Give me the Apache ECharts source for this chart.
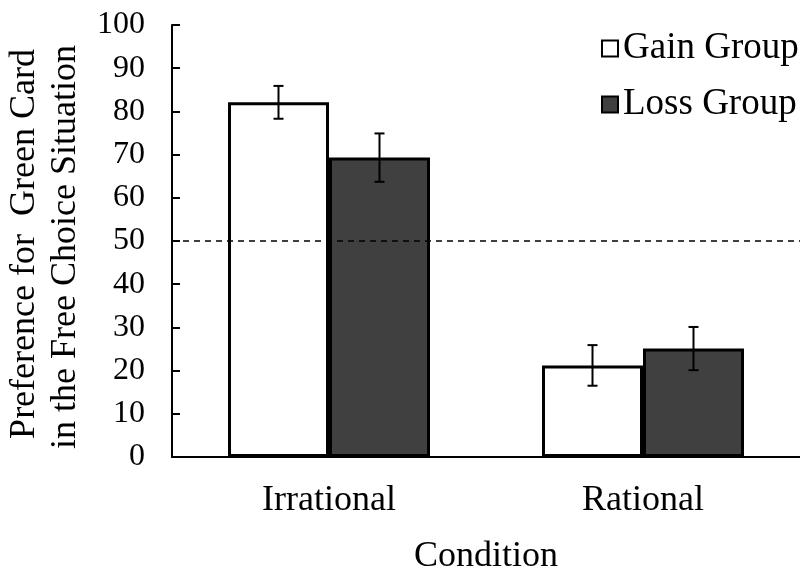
<!DOCTYPE html>
<html>
<head>
<meta charset="utf-8">
<script src="https://cdn.jsdelivr.net/npm/echarts@6/dist/echarts.min.js"></script>
<style>
  html, body { margin: 0; padding: 0; background: #fff; }
  #chart { width: 800px; height: 574px; }
</style>
</head>
<body>
<div id="chart"></div>
<script>
// Conditions on the x axis and the two groups
const categories = ['Irrational', 'Rational'];
const groupNames = ['Gain Group', 'Loss Group'];

// Mean preference (%) per condition
const gainValues = [82.1, 21.2];
const lossValues = [69.3, 25.1];

// Error bar half-lengths
const gainErrors = [3.8, 4.7];
const lossErrors = [5.6, 5.0];

// Chance-level reference line
const chanceLevel = [50];

// Y axis range and step
const yMin = 0, yMax = 100, yStep = 10;

const FONT = '"Liberation Serif", "Times New Roman", serif';
const BAR_WIDTH = 101;
const LOSS_FILL = '#404040';

const chart = echarts.init(document.getElementById('chart'), null, { renderer: 'canvas' });

function errorData(values, errors, offsetSign) {
  return values.map((v, i) => [i, v - errors[i], v + errors[i], offsetSign]);
}

function renderErrorBar(params, api) {
  const cat = api.value(0);
  const lo = api.coord([cat, api.value(1)]);
  const hi = api.coord([cat, api.value(2)]);
  const x = lo[0] + api.value(3) * BAR_WIDTH / 2;
  const cap = 5;
  const style = { stroke: '#000', lineWidth: 2 };
  return {
    type: 'group',
    children: [
      { type: 'line', shape: { x1: x, y1: hi[1], x2: x, y2: lo[1] }, style },
      { type: 'line', shape: { x1: x - cap, y1: hi[1], x2: x + cap, y2: hi[1] }, style },
      { type: 'line', shape: { x1: x - cap, y1: lo[1], x2: x + cap, y2: lo[1] }, style }
    ]
  };
}

const option = {
  animation: false,
  backgroundColor: '#fff',
  textStyle: { fontFamily: FONT, color: '#000' },
  grid: { left: 172, right: 0, top: 25, bottom: 117, containLabel: false, outerBoundsMode: 'none' },
  legend: {
    orient: 'vertical',
    left: 601,
    top: 30,
    padding: 0,
    itemWidth: 16,
    itemHeight: 16,
    itemGap: 19,
    icon: 'rect',
    textStyle: { fontFamily: FONT, fontSize: 37, color: '#000' },
    data: [
      { name: groupNames[0], itemStyle: { color: '#fff', borderColor: '#000', borderWidth: 2 } },
      { name: groupNames[1], itemStyle: { color: LOSS_FILL, borderColor: '#000', borderWidth: 2 } }
    ]
  },
  xAxis: {
    type: 'category',
    data: categories,
    name: 'Condition',
    nameLocation: 'middle',
    nameGap: 82,
    nameTextStyle: { fontFamily: FONT, fontSize: 36, color: '#000' },
    axisLine: { lineStyle: { color: '#000', width: 2 } },
    axisTick: { show: false },
    axisLabel: { fontFamily: FONT, fontSize: 36, color: '#000', margin: 26 },
    splitLine: { show: false }
  },
  yAxis: {
    type: 'value',
    min: yMin,
    max: yMax,
    interval: yStep,
    axisLine: { show: true, lineStyle: { color: '#000', width: 2 } },
    axisTick: { show: true, inside: true, length: 8, lineStyle: { color: '#000', width: 2 } },
    axisLabel: { fontFamily: FONT, fontSize: 32, color: '#000', margin: 27 },
    splitLine: { show: false }
  },
  graphic: [
    {
      type: 'text',
      x: 25, y: 244,
      rotation: Math.PI / 2,
      style: {
        text: 'Preference for  Green Card',
        font: '36px ' + FONT,
        fill: '#000',
        align: 'center',
        verticalAlign: 'middle'
      }
    },
    {
      type: 'text',
      x: 66, y: 247,
      rotation: Math.PI / 2,
      style: {
        text: 'in the Free Choice Situation',
        font: '36px ' + FONT,
        fill: '#000',
        align: 'center',
        verticalAlign: 'middle'
      }
    }
  ],
  series: [
    {
      name: groupNames[0],
      type: 'bar',
      data: gainValues,
      barWidth: BAR_WIDTH,
      barGap: '0%',
      itemStyle: { color: '#fff', borderColor: '#000', borderWidth: 3 },
      markLine: {
        silent: true,
        symbol: 'none',
        label: { show: false },
        lineStyle: { color: '#000', width: 1.5, type: [6, 5] },
        data: chanceLevel.map(v => ({ yAxis: v }))
      },
      z: 2
    },
    {
      name: groupNames[1],
      type: 'bar',
      data: lossValues,
      barWidth: BAR_WIDTH,
      barGap: '0%',
      itemStyle: { color: LOSS_FILL, borderColor: '#000', borderWidth: 3 },
      z: 2
    },
    {
      type: 'custom',
      renderItem: renderErrorBar,
      data: errorData(gainValues, gainErrors, -1).concat(errorData(lossValues, lossErrors, 1)),
      encode: { x: 0, y: [1, 2] },
      z: 5,
      silent: true
    }
  ]
};

chart.setOption(option);
</script>
</body>
</html>
